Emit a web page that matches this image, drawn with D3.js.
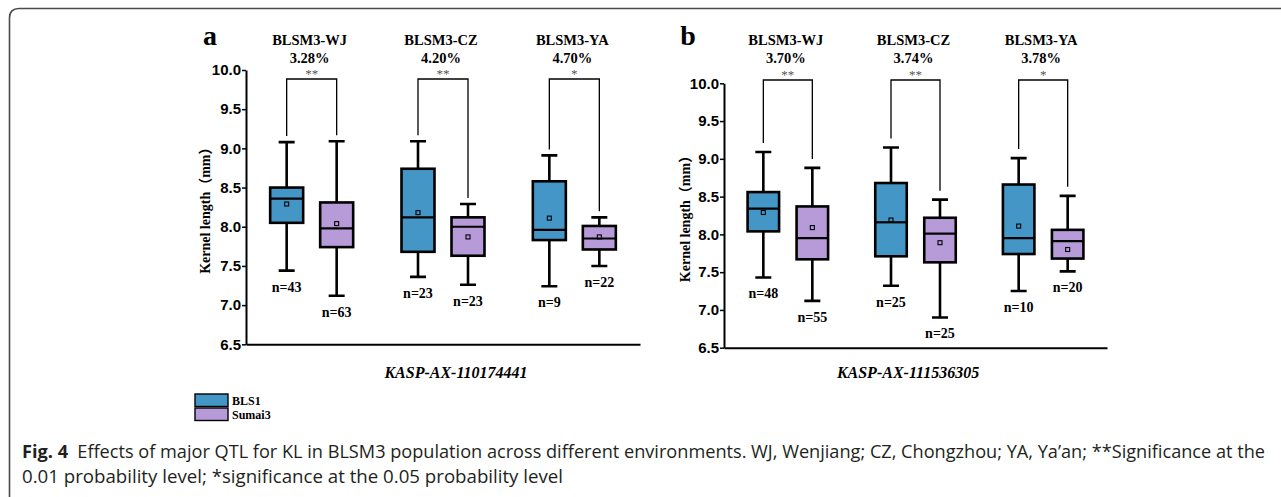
<!DOCTYPE html>
<html>
<head>
<meta charset="utf-8">
<script src="https://cdn.jsdelivr.net/npm/d3@7"></script>
<style>
  body { margin: 0; background: #fff; }
  svg { display: block; }
  .serif { font-family: 'Liberation Serif', 'Times New Roman', 'Noto Sans CJK SC', serif; }
</style>
</head>
<body>
<svg width="1281" height="497"></svg>
<script>
const environments = ['BLSM3-WJ', 'BLSM3-CZ', 'BLSM3-YA']
const genotypes = ['BLS1', 'Sumai3']
const genotypeColors = ['#4496c6', '#b79bd9']
const yTicks = [6.5, 7.0, 7.5, 8.0, 8.5, 9.0, 9.5, 10.0]

// panel a
const markerA = 'KASP-AX-110174441'
const pveA = ['3.28%', '4.20%', '4.70%']
const sigA = ['**', '**', '*']
// env, genotype, min, q1, median, q3, max, mean, n
const boxesA = [
  ['BLSM3-WJ', 'BLS1', 7.44, 8.05, 8.36, 8.50, 9.08, 8.29, 43],
  ['BLSM3-WJ', 'Sumai3', 7.12, 7.74, 7.98, 8.31, 9.09, 8.04, 63],
  ['BLSM3-CZ', 'BLS1', 7.36, 7.68, 8.12, 8.74, 9.09, 8.18, 23],
  ['BLSM3-CZ', 'Sumai3', 7.26, 7.63, 8.00, 8.12, 8.29, 7.87, 23],
  ['BLSM3-YA', 'BLS1', 7.24, 7.83, 7.96, 8.58, 8.91, 8.11, 9],
  ['BLSM3-YA', 'Sumai3', 7.50, 7.71, 7.85, 8.01, 8.12, 7.87, 22]
]

// panel b
const markerB = 'KASP-AX-111536305'
const pveB = ['3.70%', '3.74%', '3.78%']
const sigB = ['**', '**', '*']
const boxesB = [
  ['BLSM3-WJ', 'BLS1', 7.43, 8.04, 8.34, 8.56, 9.09, 8.29, 48],
  ['BLSM3-WJ', 'Sumai3', 7.12, 7.67, 7.95, 8.37, 8.88, 8.09, 55],
  ['BLSM3-CZ', 'BLS1', 7.32, 7.71, 8.16, 8.68, 9.15, 8.19, 25],
  ['BLSM3-CZ', 'Sumai3', 6.90, 7.63, 8.01, 8.22, 8.46, 7.89, 25],
  ['BLSM3-YA', 'BLS1', 7.25, 7.74, 7.95, 8.66, 9.01, 8.11, 10],
  ['BLSM3-YA', 'Sumai3', 7.51, 7.68, 7.91, 8.06, 8.51, 7.80, 20]
]

const caption1 = 'Effects of major QTL for KL in BLSM3 population across different environments. WJ, Wenjiang; CZ, Chongzhou; YA, Ya\u2019an; **Significance at the'
const caption2 = '0.01 probability level; *significance at the 0.05 probability level'

const svg = d3.select('svg')

// frame of the figure box
svg.append('path')
  .attr('d', 'M9.5,497 V18 Q9.5,8.5 19,8.5 H1281')
  .attr('fill', 'none')
  .attr('stroke', '#4a4a4a')
  .attr('stroke-width', 1.6)

function drawPanel (p) {
  let g = svg.append('g').attr('class', 'serif')
  let x = d3.scaleBand().domain(environments).range([p.x0, p.x1])
  let xg = d3.scalePoint().domain(genotypes).range([-p.offset, p.offset])
  let y = d3.scaleLinear().domain([6.5, 10]).range([p.yBottom, p.yTop])
  let color = d3.scaleOrdinal().domain(genotypes).range(genotypeColors)
  let cx = d => x(d[0]) + x.bandwidth() / 2 + xg(d[1])

  // panel letter
  g.append('text')
    .attr('x', p.letterX).attr('y', 45)
    .attr('text-anchor', 'middle')
    .attr('font-size', 28).attr('font-weight', 'bold')
    .text(p.letter)

  // y axis
  let ya = g.append('g')
    .attr('transform', 'translate(' + p.x0 + ',0)')
    .call(d3.axisLeft(y).tickValues(yTicks).tickFormat(d3.format('.1f')).tickSize(4).tickSizeOuter(0))
  ya.select('.domain').attr('stroke-width', 2)
  ya.selectAll('.tick line').attr('stroke-width', 1.5)
  ya.selectAll('.tick text')
    .attr('font-family', null)
    .attr('font-size', 15).attr('font-weight', 'bold').attr('fill', '#000')
    .attr('x', -5)

  // x axis (baseline only)
  let xa = g.append('g')
    .attr('transform', 'translate(0,' + p.yBottom + ')')
    .call(d3.axisBottom(x).tickSize(0).tickSizeOuter(0).tickFormat(''))
  xa.select('.domain').attr('stroke-width', 2)

  // axis titles
  g.append('text')
    .attr('transform', 'translate(' + p.yLabelX + ',' + y(8.25) + ') rotate(-90)')
    .attr('text-anchor', 'middle')
    .attr('dy', '0.35em')
    .attr('font-size', 14).attr('font-weight', 'bold')
    .text('Kernel length（mm）')

  g.append('text')
    .attr('x', p.titleX).attr('y', 378)
    .attr('text-anchor', 'middle')
    .attr('font-size', 16).attr('font-weight', 'bold').attr('font-style', 'italic')
    .text(p.marker)

  // environment headers
  environments.forEach(function (env, i) {
    let mx = x(env) + x.bandwidth() / 2
    g.append('text')
      .attr('x', mx - 2).attr('y', 45)
      .attr('text-anchor', 'middle')
      .attr('font-size', 14.5).attr('font-weight', 'bold')
      .text(env)
    g.append('text')
      .attr('x', mx - 2).attr('y', 63)
      .attr('text-anchor', 'middle')
      .attr('font-size', 14.5).attr('font-weight', 'bold')
      .text(p.pve[i])

    // significance bracket
    let rows = p.boxes.filter(d => d[0] === env)
    let xl = cx(rows[0])
    let xr = cx(rows[1])
    g.append('path')
      .attr('d', 'M' + xl + ',' + (y(rows[0][6]) - p.gap) + 'V' + p.bracketY +
        'H' + xr + 'V' + (y(rows[1][6]) - p.gap))
      .attr('fill', 'none')
      .attr('stroke', '#000')
      .attr('stroke-width', 1.3)
    g.append('text')
      .attr('x', (xl + xr) / 2).attr('y', p.bracketY - 1)
      .attr('text-anchor', 'middle')
      .attr('font-size', 13).attr('fill', '#555')
      .text(p.sig[i])
  })

  // boxes
  let bw = p.boxWidth
  p.boxes.forEach(function (d) {
    let c = cx(d)
    let bg = g.append('g')
    // whiskers
    bg.append('path')
      .attr('d', 'M' + c + ',' + y(d[6]) + 'V' + y(d[5]) +
        'M' + c + ',' + y(d[2]) + 'V' + y(d[3]) +
        'M' + (c - 8) + ',' + y(d[6]) + 'H' + (c + 8) +
        'M' + (c - 8) + ',' + y(d[2]) + 'H' + (c + 8))
      .attr('fill', 'none')
      .attr('stroke', '#000')
      .attr('stroke-width', 2.6)
    bg.append('rect')
      .attr('x', c - bw / 2).attr('y', y(d[5]))
      .attr('width', bw).attr('height', y(d[3]) - y(d[5]))
      .attr('fill', color(d[1]))
      .attr('stroke', '#000')
      .attr('stroke-width', 2.6)
    bg.append('line')
      .attr('x1', c - bw / 2).attr('x2', c + bw / 2)
      .attr('y1', y(d[4])).attr('y2', y(d[4]))
      .attr('stroke', '#000')
      .attr('stroke-width', 2.2)
    bg.append('rect')
      .attr('x', c - 2).attr('y', y(d[7]) - 2)
      .attr('width', 4).attr('height', 4)
      .attr('fill', 'none')
      .attr('stroke', '#000')
      .attr('stroke-width', 1.1)
    bg.append('text')
      .attr('x', c).attr('y', y(d[2]) + 21)
      .attr('text-anchor', 'middle')
      .attr('font-size', 14).attr('font-weight', 'bold')
      .text('n=' + d[8])
  })
}

drawPanel({
  letter: 'a', letterX: 210, marker: markerA, pve: pveA, sig: sigA, boxes: boxesA,
  x0: 246, x1: 640, yTop: 70, yBottom: 344.3, offset: 25, boxWidth: 33,
  bracketY: 79, gap: 6, yLabelX: 205, titleX: 456
})

drawPanel({
  letter: 'b', letterX: 688, marker: markerB, pve: pveB, sig: sigB, boxes: boxesB,
  x0: 724, x1: 1107, yTop: 83.3, yBottom: 347.7, offset: 24.5, boxWidth: 31.5,
  bracketY: 80, gap: 9, yLabelX: 685, titleX: 908
})

// legend
let legend = svg.append('g').attr('class', 'serif')
genotypes.forEach(function (gt, i) {
  legend.append('rect')
    .attr('x', 195).attr('y', 394 + i * 14)
    .attr('width', 33).attr('height', 12.5)
    .attr('fill', genotypeColors[i])
    .attr('stroke', '#000')
    .attr('stroke-width', 1.4)
  legend.append('text')
    .attr('x', 232).attr('y', 404.5 + i * 14)
    .attr('font-size', 12).attr('font-weight', 'bold')
    .text(gt)
})

// caption
let cap = svg.append('g')
  .attr('font-family', "'Open Sans', 'Noto Sans', sans-serif")
  .attr('font-size', 17.5)
  .attr('fill', '#231f20')
let line1 = cap.append('text').attr('x', 22).attr('y', 458)
  .attr('textLength', 1243).attr('lengthAdjust', 'spacingAndGlyphs')
line1.append('tspan').attr('font-weight', 'bold').text('Fig. 4')
line1.append('tspan').attr('dx', 9).text(caption1)
cap.append('text').attr('x', 22).attr('y', 483)
  .attr('textLength', 541).attr('lengthAdjust', 'spacingAndGlyphs')
  .text(caption2)
</script>
</body>
</html>
